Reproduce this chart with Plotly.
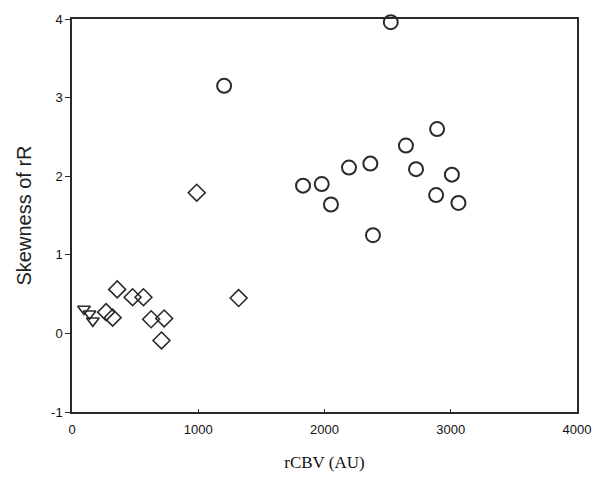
import plotly.graph_objects as go

# Group 1: open circles
circle_rcbv = [2525, 1205, 2892, 2645, 2194, 2363, 2725, 3009, 1830, 1978, 2051, 2884, 3061, 2384]
circle_skew = [3.96, 3.15, 2.60, 2.39, 2.11, 2.16, 2.09, 2.02, 1.88, 1.90, 1.64, 1.76, 1.66, 1.25]

# Group 2: open diamonds
diamond_rcbv = [988, 1320, 358, 480, 566, 270, 322, 627, 730, 709]
diamond_skew = [1.79, 0.45, 0.56, 0.46, 0.46, 0.27, 0.20, 0.18, 0.19, -0.09]

# Group 3: open down-triangles
triangle_rcbv = [95, 139, 165]
triangle_skew = [0.31, 0.25, 0.16]

x_ticks = [0, 1000, 2000, 3000, 4000]
y_ticks = [-1, 0, 1, 2, 3, 4]

ink = "#2a2a2a"

fig = go.Figure()
fig.add_trace(go.Scatter(
    x=circle_rcbv, y=circle_skew, mode="markers",
    marker=dict(symbol="circle-open", size=14, color=ink, line=dict(width=2)),
    showlegend=False, cliponaxis=False,
))
fig.add_trace(go.Scatter(
    x=diamond_rcbv, y=diamond_skew, mode="markers",
    marker=dict(symbol="diamond-open", size=13, color=ink, line=dict(width=1.6)),
    showlegend=False,
))
fig.add_trace(go.Scatter(
    x=triangle_rcbv, y=triangle_skew, mode="markers",
    marker=dict(symbol="triangle-down-open", size=11, color=ink, line=dict(width=1.6)),
    showlegend=False,
))

tick_font = dict(family="Liberation Sans, Arial, sans-serif", size=13, color="#111")

fig.update_layout(
    width=603, height=482,
    margin=dict(l=72, r=19, t=16, b=70),
    paper_bgcolor="white", plot_bgcolor="white",
    xaxis=dict(
        range=[0, 4000], tickvals=x_ticks, ticktext=[str(v) for v in x_ticks],
        showgrid=False, zeroline=False, showline=True, mirror=True,
        linecolor=ink, linewidth=1.5, ticks="inside", ticklen=3, tickcolor=ink,
        tickfont=tick_font, ticklabelstandoff=5,
        title=dict(text="rCBV (AU)", standoff=20,
                   font=dict(family="Liberation Serif, Times New Roman, serif", size=17, color="#111")),
    ),
    yaxis=dict(
        range=[-1, 4], tickvals=y_ticks, ticktext=[str(v) for v in y_ticks],
        showgrid=False, zeroline=False, showline=True, mirror=True,
        linecolor=ink, linewidth=1.5, ticks="outside", ticklen=5, tickcolor=ink,
        tickfont=tick_font,
        title=dict(text="Skewness of rR", standoff=14,
                   font=dict(family="Liberation Sans, Arial, sans-serif", size=20, color="#222")),
    ),
)

fig.write_html("out.html")
